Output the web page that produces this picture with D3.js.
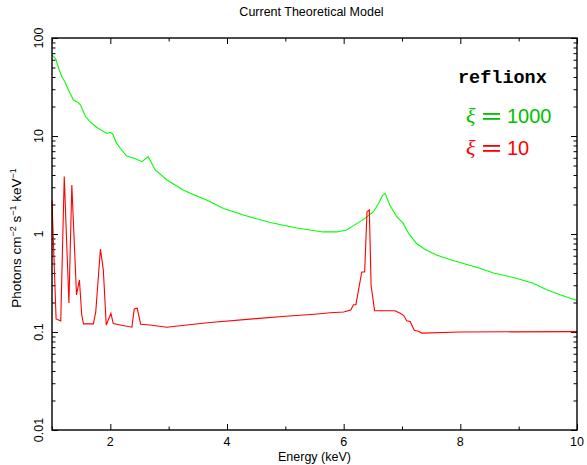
<!DOCTYPE html>
<html>
<head>
<meta charset="utf-8">
<script src="https://cdn.jsdelivr.net/npm/d3@7"></script>
<style>
  body { margin: 0; background: #fff; }
  svg { display: block; font-family: "Liberation Sans", Arial, sans-serif; }
</style>
</head>
<body>
<div id="chart"></div>
<script>
/* DATA */
const hiEnergy = [1.0, 1.06, 1.12, 1.17, 1.22, 1.3, 1.37, 1.45, 1.49, 1.57, 1.65, 1.77, 1.94, 2.0, 2.04, 2.1, 2.17, 2.28, 2.42, 2.54, 2.65, 2.77, 2.97, 3.25, 3.37, 3.65, 3.94, 4.28, 4.74, 5.2, 5.65, 5.88, 6.05, 6.14, 6.31, 6.4, 6.51, 6.6, 6.67, 6.71, 6.79, 6.91, 7.02, 7.11, 7.25, 7.39, 7.59, 7.82, 8.05, 8.28, 8.57, 8.91, 9.25, 9.48, 9.71, 10.0];
const hiFlux = [67, 62, 48, 40, 35.8, 28, 23.3, 21.9, 20.7, 16, 14, 12.2, 10.6, 10.9, 10.5, 8.6, 7.5, 6.25, 5.9, 5.47, 6.15, 4.5, 3.56, 2.81, 2.6, 2.22, 1.82, 1.56, 1.31, 1.15, 1.05, 1.05, 1.1, 1.19, 1.37, 1.5, 1.69, 2.06, 2.5, 2.6, 1.98, 1.5, 1.29, 1.02, 0.80, 0.70, 0.61, 0.55, 0.50, 0.457, 0.40, 0.36, 0.314, 0.27, 0.24, 0.21];

const loEnergy = [1.0, 1.07, 1.15, 1.21, 1.29, 1.34, 1.42, 1.47, 1.51, 1.54, 1.71, 1.75, 1.83, 1.88, 1.93, 2.01, 2.05, 2.19, 2.37, 2.41, 2.46, 2.52, 2.68, 2.97, 3.31, 3.71, 4.5, 5.0, 5.5, 5.77, 6.0, 6.12, 6.17, 6.21, 6.31, 6.36, 6.40, 6.44, 6.47, 6.53, 6.88, 6.97, 7.03, 7.08, 7.14, 7.21, 7.28, 7.34, 8.0, 10.0];
const loFlux = [2.2, 0.136, 0.13, 3.85, 0.198, 3.16, 0.239, 0.34, 0.149, 0.121, 0.121, 0.16, 0.7, 0.43, 0.118, 0.155, 0.122, 0.117, 0.112, 0.172, 0.175, 0.12, 0.118, 0.112, 0.118, 0.125, 0.137, 0.145, 0.152, 0.157, 0.16, 0.168, 0.19, 0.19, 0.41, 0.41, 1.69, 1.76, 0.3, 0.165, 0.165, 0.155, 0.147, 0.13, 0.128, 0.104, 0.102, 0.0975, 0.1, 0.101];

const xTicks = [2, 4, 6, 8, 10];
const xMinorTicks = [1, 3, 5, 7, 9];
const yTicks = [0.01, 0.1, 1, 10, 100];
const yTickLabels = ["0.01", "0.1", "1", "10", "100"];

const series = [
  { name: "1000", energy: hiEnergy, flux: hiFlux, color: "#00ff00", textColor: "#00c000" },
  { name: "10", energy: loEnergy, flux: loFlux, color: "#ff0000", textColor: "#ff0000" }
];

/* LAYOUT */
const width = 587, height = 465;
const margin = { top: 38, right: 10, bottom: 35, left: 52 };
const x0 = margin.left, x1 = width - margin.right;
const y0 = height - margin.bottom, y1 = margin.top;

const svg = d3.select("#chart").append("svg")
  .attr("width", width)
  .attr("height", height);

const xScale = d3.scaleLinear().domain([1, 10]).range([x0, x1]);
const yScale = d3.scaleLog().domain([0.01, 100]).range([y0, y1]);

// minor log ticks
const yMinor = [];
[0.01, 0.1, 1, 10].forEach(d => {
  for (let k = 2; k <= 9; k++) yMinor.push(d * k);
});

// axes on all four sides, ticks pointing inward
const tickSize = 6, minorSize = 3.5;

function addXAxis(axisFn, yPos) {
  svg.append("g")
    .attr("transform", `translate(0,${yPos})`)
    .call(axisFn(xScale).tickValues(xTicks).tickSize(-tickSize).tickFormat(""))
    .call(g => g.select(".domain").remove());
  svg.append("g")
    .attr("transform", `translate(0,${yPos})`)
    .call(axisFn(xScale).tickValues(xMinorTicks).tickSize(-minorSize).tickFormat(""))
    .call(g => g.select(".domain").remove());
}
addXAxis(d3.axisBottom, y0);
addXAxis(d3.axisTop, y1);

function addYAxis(axisFn, xPos) {
  svg.append("g")
    .attr("transform", `translate(${xPos},0)`)
    .call(axisFn(yScale).tickValues(yTicks).tickSize(-tickSize).tickFormat(""))
    .call(g => g.select(".domain").remove());
  svg.append("g")
    .attr("transform", `translate(${xPos},0)`)
    .call(axisFn(yScale).tickValues(yMinor).tickSize(-minorSize).tickFormat(""))
    .call(g => g.select(".domain").remove());
}
addYAxis(d3.axisLeft, x0);
addYAxis(d3.axisRight, x1);

svg.selectAll(".tick line").attr("stroke", "#000").attr("stroke-width", 1);

// tick labels
svg.append("g").selectAll("text")
  .data(xTicks)
  .join("text")
  .attr("x", d => xScale(d))
  .attr("y", y0 + 16)
  .attr("text-anchor", "middle")
  .attr("font-size", 12.5)
  .text(d => d);

svg.append("g").selectAll("text")
  .data(yTicks)
  .join("text")
  .attr("transform", d => `translate(${x0 - 9},${yScale(d)}) rotate(-90)`)
  .attr("text-anchor", "middle")
  .attr("font-size", 12.5)
  .text((d, i) => yTickLabels[i]);

// curves
const line = d3.line()
  .x(d => xScale(d[0]))
  .y(d => yScale(d[1]));

svg.append("g")
  .selectAll("path")
  .data(series)
  .join("path")
  .attr("fill", "none")
  .attr("stroke", d => d.color)
  .attr("stroke-width", 1.1)
  .attr("d", d => line(d.energy.map((e, i) => [e, d.flux[i]])));

// frame
svg.append("rect")
  .attr("x", x0).attr("y", y1)
  .attr("width", x1 - x0).attr("height", y0 - y1)
  .attr("fill", "none")
  .attr("stroke", "#000")
  .attr("stroke-width", 1.4);

// titles
svg.append("text")
  .attr("x", (x0 + x1) / 2 - 3)
  .attr("y", 16)
  .attr("text-anchor", "middle")
  .attr("font-size", 12.5)
  .text("Current Theoretical Model");

svg.append("text")
  .attr("x", (x0 + x1) / 2)
  .attr("y", 461)
  .attr("text-anchor", "middle")
  .attr("font-size", 12.5)
  .text("Energy (keV)");

const yLab = svg.append("text")
  .attr("transform", `translate(21,238) rotate(-90)`)
  .attr("text-anchor", "middle")
  .attr("font-size", 13.5);
yLab.append("tspan").text("Photons cm");
yLab.append("tspan").attr("dy", -5).attr("font-size", 9).text("−2");
yLab.append("tspan").attr("dy", 5).text(" s");
yLab.append("tspan").attr("dy", -5).attr("font-size", 9).text("−1");
yLab.append("tspan").attr("dy", 5).text(" keV");
yLab.append("tspan").attr("dy", -5).attr("font-size", 9).text("−1");

// legend
svg.append("text")
  .attr("x", 458).attr("y", 83)
  .attr("font-family", "'Liberation Mono', 'DejaVu Sans Mono', monospace")
  .attr("font-weight", "bold")
  .attr("font-size", 18.5)
  .text("reflionx");

const legend = svg.append("g").selectAll("g")
  .data(series)
  .join("g")
  .attr("transform", (d, i) => `translate(0,${123 + i * 32})`)
  .attr("fill", d => d.textColor);

legend.append("text")
  .attr("x", 466)
  .attr("font-family", "'Liberation Serif', 'DejaVu Serif', serif")
  .attr("font-style", "italic")
  .attr("font-size", 22)
  .text("ξ");

legend.append("rect")
  .attr("x", 483).attr("y", -10)
  .attr("width", 17).attr("height", 1.8);
legend.append("rect")
  .attr("x", 483).attr("y", -5)
  .attr("width", 17).attr("height", 1.8);

legend.append("text")
  .attr("x", 507)
  .attr("font-size", 20)
  .text(d => d.name);
</script>
</body>
</html>
